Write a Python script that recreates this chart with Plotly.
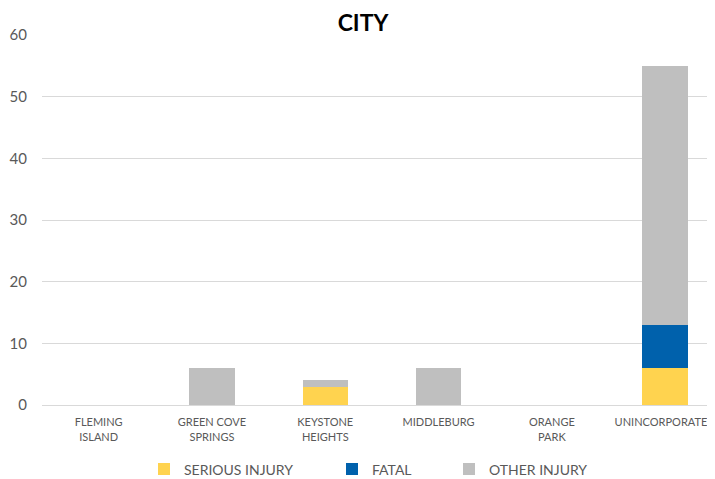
import plotly.graph_objects as go

categories = ["FLEMING<br>ISLAND", "GREEN COVE<br>SPRINGS", "KEYSTONE<br>HEIGHTS",
              "MIDDLEBURG", "ORANGE<br>PARK", "UNINCORPORATED"]
serious_injury = [0, 0, 3, 0, 0, 6]
fatal = [0, 0, 0, 0, 0, 7]
other_injury = [0, 6, 1, 6, 0, 42]

series = [
    ("SERIOUS INJURY", serious_injury, "#FFD34F", "legend", 144),
    ("FATAL", fatal, "#0061AC", "legend2", 332),
    ("OTHER INJURY", other_injury, "#BFBFBF", "legend3", 449),
]

# page has an 8px body margin; figure sized so plot area lands at page x 42..715, y 35..405
W, H = 707, 471
ML, MT, MB = 34, 27, 74
PW = W - ML
PH = H - MT - MB
OFF = 8

fig = go.Figure()
legends = {}
for name, vals, color, leg, left_px in series:
    fig.add_trace(go.Bar(x=list(range(len(categories))), y=vals, name=name, legend=leg,
                         marker=dict(color=color, line=dict(width=0))))
    legends[leg] = dict(orientation="h", x=(left_px - OFF - ML) / PW, xanchor="left",
                        y=(H - MB - (469.5 - OFF)) / PH, yanchor="middle",
                        font=dict(size=14, color="#595959"), itemwidth=30,
                        bgcolor="rgba(0,0,0,0)")

fig.update_layout(
    barmode="stack",
    bargap=0.6,
    width=W, height=H,
    margin=dict(l=ML, r=0, t=MT, b=MB, pad=0, autoexpand=False),
    paper_bgcolor="white", plot_bgcolor="white",
    font=dict(family="Lato, Noto Sans, sans-serif", color="#595959", size=12),
    title=dict(text="<b>CITY</b>", x=(363 - OFF) / W, xanchor="center",
               y=1 - (23 - OFF) / H, yanchor="middle",
               font=dict(size=23, color="black", family="Lato, Noto Sans, sans-serif")),
    showlegend=True,
    **legends,
)
fig.update_yaxes(range=[0, 60], dtick=10, showgrid=True, gridcolor="#D9D9D9", gridwidth=1,
                 zeroline=False, showline=False, ticks="", tickfont=dict(size=15),
                 ticklabelstandoff=14, automargin=False)
fig.update_xaxes(range=[-0.5, 5.44], tickmode="array", tickvals=list(range(len(categories))),
                 ticktext=categories, showline=True, linecolor="#D9D9D9", linewidth=1,
                 ticks="", tickfont=dict(size=11), showgrid=False, automargin=False,
                 ticklabeloverflow="allow", ticklabelstandoff=7)

fig.write_html("out.html")
